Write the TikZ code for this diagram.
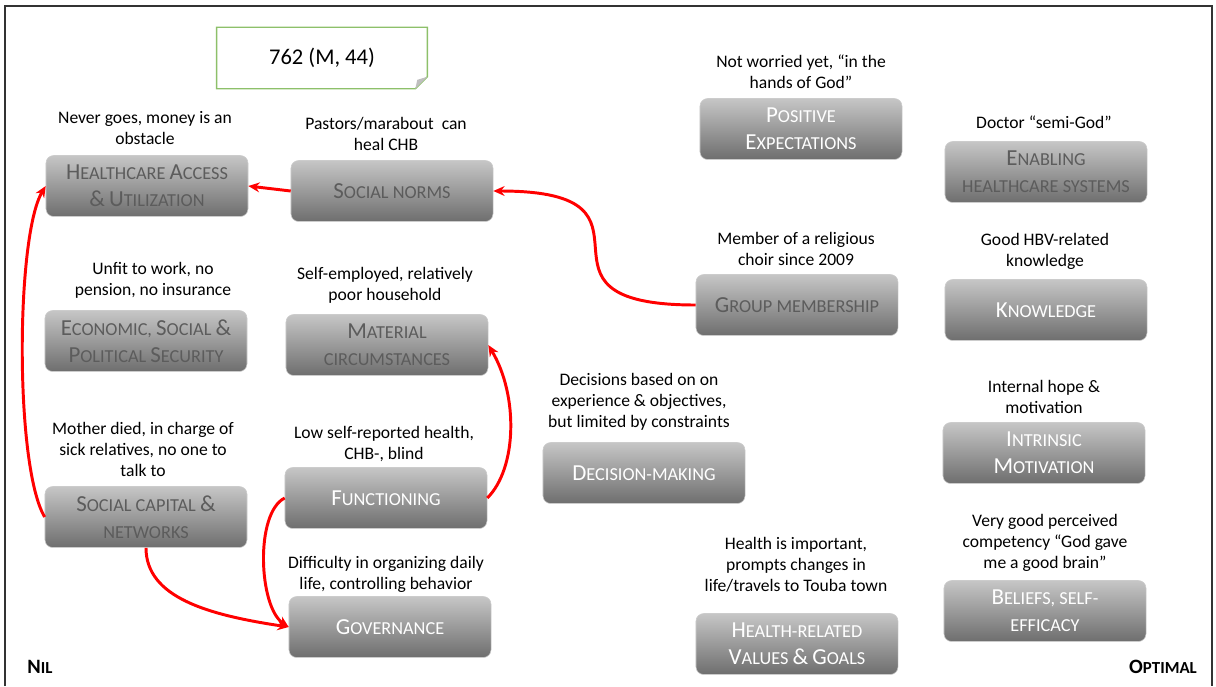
\documentclass[tikz,border=0pt]{standalone}
\usepackage{fontspec}
\setmainfont{Carlito}
\usetikzlibrary{arrows.meta,calc}
\definecolor{boxtop}{RGB}{198,198,198}
\definecolor{boxbot}{RGB}{110,110,110}
\definecolor{boxtext}{RGB}{92,92,92}
\definecolor{notegreen}{RGB}{141,192,106}
\definecolor{linkred}{RGB}{255,0,0}
% first letters of the small-caps titles
\newcommand\Ini[1]{{\fontsize{16.3}{19}\selectfont #1}}
\newcommand\PoleIni[1]{{\fontsize{14.5}{16}\selectfont #1}}
\tikzset{
    capability diagram/.style = {x=0.025cm, y=-0.025cm,
                                 >={Stealth[length=8pt,width=7pt]}},
    dimbox/.style  = {rounded corners=5.5pt, top color=boxtop,
                      bottom color=boxbot, draw=black!20, line width=0.4pt,
                      minimum width=5.05cm, minimum height=1.525cm,
                      align=center, inner sep=2pt, text=boxtext,
                      font=\fontsize{13}{19.2}\selectfont},
    brightbox/.style = {dimbox, text=white},
    quote/.style   = {align=center, inner sep=0pt,
                      font=\fontsize{12.5}{14.9}\selectfont},
    link/.style    = {->, draw=linkred, line width=2.1pt},
    pole/.style    = {inner sep=0pt, font=\bfseries\fontsize{12}{14}\selectfont},
    casetag/.style = {minimum width=5.25cm, minimum height=1.525cm,
                      font=\fontsize{16}{19}\selectfont}
}

\begin{document}
\begin{tikzpicture}[capability diagram]
\useasboundingbox (0,0) rectangle (1216,686);

% ================= Frame =================
\draw[line width=1.3pt, black!80] (5,686) -- (5,6) -- (1212,6) -- (1212,686);

% ================= Case tag =================
\node[casetag] (case) at (322,58) {762 (M, 44)};
\draw[notegreen, line width=1pt] (case.north west) -- (case.north east)
    -- ($(case.south east)+(0,-12)$) -- ($(case.south east)+(-12,0)$)
    -- (case.south west) -- cycle;
\fill[black!25] ($(case.south east)+(0,-12)$) -- ($(case.south east)+(-10,-9)$)
    -- ($(case.south east)+(-12,0)$) -- cycle;

% ================= Left column =================
\node[dimbox] (access) at (147,186)
    {\Ini{H}EALTHCARE \Ini{A}CCESS\\\Ini{\&} \Ini{U}TILIZATION};
\node[dimbox] (security) at (146,341)
    {\Ini{E}CONOMIC, \Ini{S}OCIAL \Ini{\&}\\\Ini{P}OLITICAL \Ini{S}ECURITY};
\node[dimbox] (capital) at (146,517)
    {\Ini{S}OCIAL CAPITAL \Ini{\&}\\NETWORKS};

\node[quote] (access-q)   at (145,128) {Never goes, money is an\\obstacle};
\node[quote] (security-q) at (153,280) {Unfit to work, no\\pension, no insurance};
\node[quote] (capital-q)  at (143,449) {Mother died, in charge of\\sick relatives, no one to\\talk to};

% ================= Second column =================
\node[dimbox] (norms) at (392,191) {\Ini{S}OCIAL NORMS};
\node[dimbox] (material) at (387,345) {\Ini{M}ATERIAL\\CIRCUMSTANCES};
\node[brightbox] (functioning) at (386,498) {\Ini{F}UNCTIONING};
\node[brightbox] (governance) at (390,627) {\Ini{G}OVERNANCE};

\node[quote] (norms-q)       at (386,134) {Pastors/marabout\ \ can\\heal CHB};
\node[quote] (material-q)    at (385,285) {Self-employed, relatively\\poor household};
\node[quote] (functioning-q) at (384,444) {Low self-reported health,\\CHB-, blind};
\node[quote] (governance-q)  at (386,574) {Difficulty in organizing daily\\life, controlling behavior};

% ================= Centre =================
\node[brightbox] (expect) at (801,129) {\Ini{P}OSITIVE\\\Ini{E}XPECTATIONS};
\node[dimbox] (group) at (797,305) {\Ini{G}ROUP MEMBERSHIP};
\node[brightbox] (decision) at (644,473) {\Ini{D}ECISION-MAKING};
\node[brightbox] (values) at (797,644) {\Ini{H}EALTH-RELATED\\\Ini{V}ALUES \Ini{\&} \Ini{G}OALS};

\node[quote] (expect-q)   at (801,72)  {Not worried yet, “in the\\hands of God”};
\node[quote] (group-q)    at (796,249) {Member of a religious\\choir since 2009};
\node[quote] (decision-q) at (639,402) {Decisions based on on\\experience \& objectives,\\but limited by constraints};
\node[quote] (values-q)   at (796,565) {Health is important,\\prompts changes in\\life/travels to Touba town};

% ================= Right column =================
\node[dimbox] (enabling) at (1046,172) {\Ini{E}NABLING\\HEALTHCARE SYSTEMS};
\node[brightbox] (knowledge) at (1046,310) {\Ini{K}NOWLEDGE};
\node[brightbox] (intrinsic) at (1044,453) {\Ini{I}NTRINSIC\\\Ini{M}OTIVATION};
\node[brightbox] (beliefs) at (1045,611) {\Ini{B}ELIEFS, SELF-\\EFFICACY};

\node[quote] (enabling-q)  at (1044,122) {Doctor “semi-God”};
\node[quote] (knowledge-q) at (1045,251) {Good HBV-related\\knowledge};
\node[quote] (intrinsic-q) at (1044,397) {Internal hope \&\\motivation};
\node[quote] (beliefs-q)   at (1045,543) {Very good perceived\\competency “God gave\\me a good brain”};

% ================= Scale ends =================
\node[pole] (nil) at (40,667) {\PoleIni{N}IL};
\node[pole] (optimal) at (1163,667) {\PoleIni{O}PTIMAL};

% ================= Links =================
\draw[link] (norms.west) -- (access.east);
\draw[link] (group.west) .. controls +(-190,0) and +(190,0) .. (norms.east);
\draw[link] (capital.west) .. controls +(-30,-50) and +(-30,50) .. (access.west);
\draw[link] (functioning.east) .. controls +(30,-30) and +(30,50) .. (material.east);
\draw[link] (functioning.west) .. controls +(-30,15) and +(-30,-20) .. (governance.west);
\draw[link] (capital.south) .. controls +(0,50) and +(-80,-12) .. (governance.west);

\end{tikzpicture}
\end{document}
